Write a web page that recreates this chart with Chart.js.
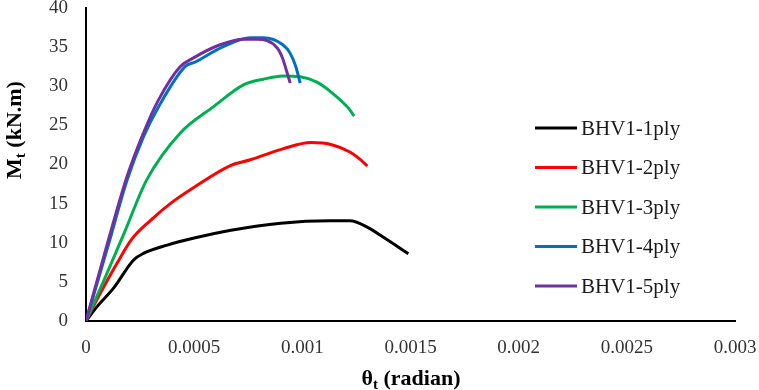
<!DOCTYPE html>
<html>
<head>
<meta charset="utf-8">
<script src="https://cdn.jsdelivr.net/npm/chart.js"></script>
<style>
  html, body { margin: 0; padding: 0; background: #fff; }
  #wrap { width: 759px; height: 390px; position: relative; }
</style>
</head>
<body>
<div id="wrap"><canvas id="mtChart"></canvas></div>
<script>
// series names
var seriesNames = ["BHV1-1ply", "BHV1-2ply", "BHV1-3ply", "BHV1-4ply", "BHV1-5ply"];
var seriesColors = ["#000000", "#ff0000", "#00b050", "#0070c0", "#7030a0"];

// rotation (radian) and moment (kN.m)
var ply1Theta = [0, 0.00005, 0.00013, 0.00022, 0.00027, 0.000375, 0.0005, 0.00067, 0.0009, 0.00113, 0.00122, 0.0013, 0.001375, 0.00149];
var ply1Moment = [0, 1.8, 4.3, 7.8, 8.7, 9.7, 10.6, 11.6, 12.5, 12.8, 12.8, 12.0, 10.7, 8.6];

var ply2Theta = [0, 0.00005, 0.000144, 0.00021, 0.0003, 0.000394, 0.0005, 0.00067, 0.00076, 0.00091, 0.00104, 0.00114, 0.00122, 0.00127, 0.0013];
var ply2Moment = [0, 2.7, 7.4, 10.4, 12.9, 15.1, 17.1, 19.9, 20.6, 22.0, 22.8, 22.5, 21.6, 20.6, 19.8];

var ply3Theta = [0, 0.000083, 0.000176, 0.00028, 0.000435, 0.00059, 0.00073, 0.00082, 0.00091, 0.00099, 0.00107, 0.00114, 0.00121, 0.00124];
var ply3Moment = [0, 5.2, 11.2, 18.0, 24.0, 27.4, 30.2, 30.9, 31.3, 31.2, 30.5, 29.1, 27.3, 26.2];

var ply4Theta = [0, 0.0001, 0.00019, 0.000265, 0.00034, 0.000458, 0.000505, 0.00063, 0.00076, 0.00082, 0.00091, 0.000944, 0.00097, 0.00099];
var ply4Moment = [0, 9.4, 18.0, 23.5, 27.6, 32.5, 33.1, 35.0, 36.2, 36.2, 35.3, 34.2, 32.5, 30.4];

var ply5Theta = [0, 0.0001, 0.00019, 0.000265, 0.000334, 0.000435, 0.000495, 0.00062, 0.000727, 0.00079, 0.000884, 0.000907, 0.00093, 0.000944];
var ply5Moment = [0, 10.0, 18.5, 24.0, 28.2, 32.5, 33.6, 35.3, 36.0, 36.0, 34.9, 33.7, 31.7, 30.4];

// tick labels
var xTickLabels = ["0", "0.0005", "0.001", "0.0015", "0.002", "0.0025", "0.003"];
var yTickLabels = ["0", "5", "10", "15", "20", "25", "30", "35", "40"];

var allTheta = [ply1Theta, ply2Theta, ply3Theta, ply4Theta, ply5Theta];
var allMoment = [ply1Moment, ply2Moment, ply3Moment, ply4Moment, ply5Moment];

function toPoints(xs, ys) {
  return xs.map(function (x, i) { return { x: x, y: ys[i] }; });
}

var datasets = seriesNames.map(function (name, i) {
  return {
    label: name,
    data: toPoints(allTheta[i], allMoment[i]),
    borderColor: seriesColors[i],
    backgroundColor: seriesColors[i],
    borderWidth: 3,
    pointRadius: 0,
    showLine: true,
    fill: false,
    cubicInterpolationMode: "monotone",
    order: seriesNames.length - i
  };
});

// legend sits inside the plot, Excel style
var insideLegend = {
  id: "insideLegend",
  afterDraw: function (chart) {
    var c = chart.ctx;
    c.save();
    c.font = "21px 'Liberation Serif'";
    c.textBaseline = "middle";
    c.textAlign = "left";
    chart.data.datasets.forEach(function (ds, i) {
      var y = 128 + i * 39.5;
      c.strokeStyle = ds.borderColor;
      c.lineWidth = 3;
      c.beginPath();
      c.moveTo(535, y);
      c.lineTo(577, y);
      c.stroke();
      c.fillStyle = "#1a1a1a";
      c.fillText(ds.label, 581, y + 1);
    });
    c.restore();
  }
};

// axis titles with subscripts
function drawSubTitle(c, main, sub, rest, cx, cy) {
  var big = "bold 22px 'Liberation Serif'";
  var small = "bold 15px 'Liberation Serif'";
  c.font = big;
  var w1 = c.measureText(main).width;
  var w3 = c.measureText(rest).width;
  c.font = small;
  var w2 = c.measureText(sub).width;
  var x = cx - (w1 + w2 + w3) / 2;
  c.textBaseline = "alphabetic";
  c.textAlign = "left";
  c.font = big;
  c.fillText(main, x, cy + 7);
  c.font = small;
  c.fillText(sub, x + w1, cy + 11);
  c.font = big;
  c.fillText(rest, x + w1 + w2, cy + 7);
}

var axisTitles = {
  id: "axisTitles",
  afterDraw: function (chart) {
    var c = chart.ctx;
    c.save();
    c.fillStyle = "#000";
    drawSubTitle(c, "\u03b8", "t", " (radian)", 411, 378);
    c.translate(14, 130);
    c.rotate(-Math.PI / 2);
    drawSubTitle(c, "M", "t", " (kN.m)", 0, 0);
    c.restore();
  }
};

var ctx = document.getElementById("mtChart").getContext("2d");
var chart = new Chart(ctx, {
  type: "scatter",
  data: { datasets: datasets },
  options: {
    responsive: true,
    maintainAspectRatio: false,
    animation: false,
    devicePixelRatio: 1,
    layout: { padding: { top: 8, right: 24, bottom: 0, left: 0 } },
    plugins: {
      legend: { display: false },
      tooltip: { enabled: false }
    },
    scales: {
      x: {
        type: "linear",
        min: 0,
        max: 0.003,
        grid: { display: false, drawTicks: false },
        border: { display: true, color: "#000", width: 2 },
        afterFit: function (scale) {
          scale.height = 69;
          scale.paddingLeft = 0;
          scale.paddingRight = 0;
        },
        ticks: {
          stepSize: 0.0005,
          autoSkip: false,
          maxRotation: 0,
          padding: 16,
          color: "#333",
          font: { family: "'Liberation Serif'", size: 19 },
          callback: function (v, i) { return xTickLabels[i]; }
        }
      },
      y: {
        min: 0,
        max: 40,
        grid: { display: false, drawTicks: false },
        border: { display: true, color: "#000", width: 2 },
        afterFit: function (scale) {
          scale.width = 86;
          scale.paddingTop = 0;
          scale.paddingBottom = 0;
        },
        ticks: {
          stepSize: 5,
          padding: 18,
          color: "#333",
          font: { family: "'Liberation Serif'", size: 19 },
          callback: function (v, i) { return yTickLabels[i]; }
        }
      }
    }
  },
  plugins: [insideLegend, axisTitles]
});
</script>
</body>
</html>
